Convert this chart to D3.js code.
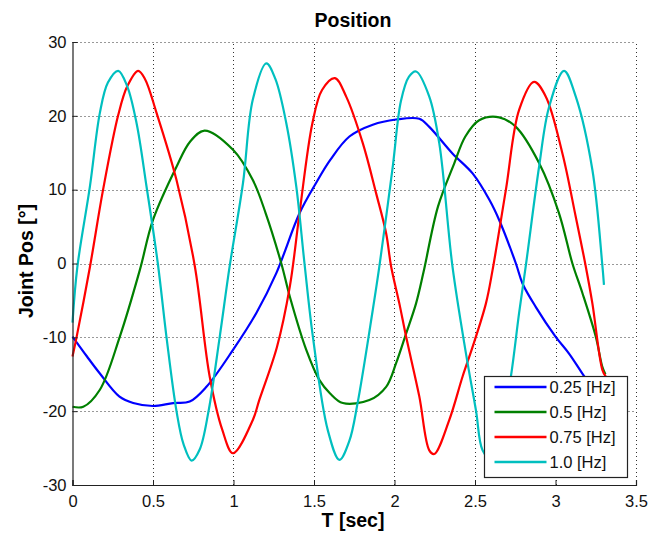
<!DOCTYPE html>
<html>
<head>
<meta charset="utf-8">
<script src="https://cdn.jsdelivr.net/npm/d3@7"></script>
<style>
  body { margin: 0; background: #fff; }
  text { font-family: "Liberation Sans", Arial, sans-serif; }
</style>
</head>
<body>
<div id="chart"></div>
<script>
// data: [time (s), joint position (deg)]
const pos025 = [[0,-9.9],[0.09,-12.6],[0.17,-14.9],[0.29,-18],[0.377,-18.9],[0.5,-19.3],[0.625,-18.9],[0.728,-18.7],
  [0.832,-16.7],[0.997,-11.7],[1.142,-6.7],[1.266,-1.3],[1.41,6.8],[1.51,10.8],[1.6,14],[1.72,17.2],[1.865,18.8],
  [2.01,19.5],[2.154,19.6],[2.216,18.5],[2.36,14.9],[2.485,12.2],[2.59,8.6],[2.65,5.9],[2.754,0],[2.795,-2.7],
  [2.878,-5.9],[3.0,-9.9],[3.084,-12.2],[3.167,-14.9],[3.25,-17.5],[3.31,-19]];

const pos05 = [[0,-19.4],[0.067,-19.4],[0.17,-17.1],[0.294,-9.9],[0.418,-0.9],[0.5,5.9],[0.646,13.1],[0.73,16.5],
  [0.82,18],[0.997,15.4],[1.12,11.3],[1.2,6.8],[1.297,0],[1.35,-4.5],[1.452,-11.7],[1.534,-15.8],[1.6,-17.6],
  [1.679,-18.9],[1.844,-18.5],[1.948,-16.7],[2.01,-13.5],[2.072,-9.5],[2.134,-5.4],[2.18,-1.2],[2.27,7.7],
  [2.37,13.5],[2.44,17.2],[2.526,19.4],[2.65,19.8],[2.754,18.5],[2.898,13.6],[3.022,6.8],[3.105,0],[3.167,-4],
  [3.25,-9.9],[3.291,-14],[3.31,-15]];

const pos075 = [[0,-12.6],[0.026,-9.9],[0.108,-0.5],[0.19,10],[0.284,20.1],[0.34,24],[0.408,26.1],[0.45,25],
  [0.522,20.4],[0.646,11.3],[0.76,-0.4],[0.852,-15.3],[0.93,-22.5],[0.997,-25.7],[1.12,-21.2],[1.16,-18.5],
  [1.27,-11.3],[1.35,-3.1],[1.41,6.8],[1.49,19],[1.55,23.5],[1.63,25.1],[1.7,22.6],[1.803,16.3],[1.886,9.5],
  [1.948,4.1],[1.979,-0.4],[2.03,-5.4],[2.072,-9.9],[2.154,-18],[2.216,-25.3],[2.247,-25.8],[2.34,-21.2],
  [2.423,-15.3],[2.485,-11.3],[2.568,-5.4],[2.609,-0.9],[2.692,10],[2.774,20.8],[2.867,24.6],[2.94,22.6],
  [3.043,14.9],[3.126,6.3],[3.188,-0.4],[3.229,-5.4],[3.291,-14.4],[3.312,-15.3]];

const pos10 = [[0,-8],[0.03,-0.5],[0.108,10.4],[0.17,20.4],[0.22,24.5],[0.284,26.1],[0.34,24],[0.398,19],
  [0.46,10.4],[0.53,0],[0.584,-10],[0.646,-20],[0.69,-24.5],[0.74,-26.7],[0.79,-25.2],[0.845,-20],[0.914,-10],
  [0.976,-0.4],[1.059,10.9],[1.12,22.2],[1.204,27.1],[1.26,25],[1.328,19],[1.39,10.4],[1.441,0],[1.493,-9.9],
  [1.586,-22.6],[1.658,-26.6],[1.72,-24],[1.77,-19],[1.865,-6.3],[1.906,-0.4],[1.989,13.1],[2.04,22],[2.09,25.3],
  [2.134,26],[2.216,22.6],[2.278,16.3],[2.36,-0.4],[2.444,-12.2],[2.506,-19.9],[2.547,-25.3],[2.6,-26.5],[2.66,-23],
  [2.723,-15.3],[2.774,-6.7],[2.815,-0.4],[2.898,13.1],[2.96,21.2],[3.053,26.1],[3.126,22.6],[3.229,12.7],
  [3.29,0],[3.301,-2.9]];

const seriesNames = ["0.25 [Hz]", "0.5 [Hz]", "0.75 [Hz]", "1.0 [Hz]"];
const seriesData = [pos025, pos05, pos075, pos10];
const seriesColors = ["#0000ff", "#008000", "#ff0000", "#00bfbf"];
const xTicks = [0, 0.5, 1, 1.5, 2, 2.5, 3, 3.5];
const yTicks = [-30, -20, -10, 0, 10, 20, 30];

const width = 659, height = 536;
const margin = {left: 72.5, right: 23, top: 42, bottom: 51};

const svg = d3.select("#chart")
    .append("svg")
    .attr("width", width)
    .attr("height", height);

svg.append("rect").attr("width", width).attr("height", height).attr("fill", "#fff");

const x = d3.scaleLinear().domain([0, 3.5]).range([margin.left, width - margin.right]);
const y = d3.scaleLinear().domain([-30, 30]).range([height - margin.bottom, margin.top]);

// dotted grid
const grid = svg.append("g")
    .attr("stroke", "#333")
    .attr("stroke-width", 1)
    .attr("stroke-dasharray", "1,3");

grid.selectAll(".gx")
    .data(xTicks.slice(1))
    .enter().append("line")
    .attr("x1", d => Math.round(x(d)) + 0.5)
    .attr("x2", d => Math.round(x(d)) + 0.5)
    .attr("y1", y(-30))
    .attr("y2", y(30));

grid.selectAll(".gy")
    .data(yTicks.slice(1))
    .enter().append("line")
    .attr("x1", x(0))
    .attr("x2", x(3.5))
    .attr("y1", d => Math.round(y(d)) + 0.5)
    .attr("y2", d => Math.round(y(d)) + 0.5);

// curves
const line = d3.line()
    .x(d => x(d[0]))
    .y(d => y(d[1]))
    .curve(d3.curveCatmullRom.alpha(0.5));

svg.append("g")
    .selectAll("path")
    .data(seriesData)
    .enter().append("path")
    .attr("d", line)
    .attr("fill", "none")
    .attr("stroke", (d, i) => seriesColors[i])
    .attr("stroke-width", 2.2)
    .attr("stroke-linejoin", "round");

// axes
const xAxis = svg.append("g")
    .attr("transform", `translate(0,${y(-30)})`)
    .call(d3.axisBottom(x).tickValues(xTicks).tickSize(-5).tickPadding(10).tickFormat(d => String(d)));

const yAxis = svg.append("g")
    .attr("transform", `translate(${x(0)},0)`)
    .call(d3.axisLeft(y).tickValues(yTicks).tickSize(-5).tickPadding(6).tickFormat(d => String(d)));

[xAxis, yAxis].forEach(a => {
    a.select(".domain").attr("stroke", "#222").attr("stroke-width", 1.2);
    a.selectAll(".tick line").attr("stroke", "#222");
    a.selectAll(".tick text")
        .attr("font-family", "'Liberation Sans', Arial, sans-serif")
        .attr("font-size", 16.5)
        .attr("fill", "#111");
});

// titles
svg.append("text")
    .attr("x", 353)
    .attr("y", 27)
    .attr("text-anchor", "middle")
    .attr("font-weight", "bold")
    .attr("font-size", 19.5)
    .text("Position");

svg.append("text")
    .attr("x", 353)
    .attr("y", 527)
    .attr("text-anchor", "middle")
    .attr("font-weight", "bold")
    .attr("font-size", 19.5)
    .text("T [sec]");

svg.append("text")
    .attr("transform", "translate(33,261) rotate(-90)")
    .attr("text-anchor", "middle")
    .attr("font-weight", "bold")
    .attr("font-size", 19.5)
    .text("Joint Pos [°]");

// legend
const legend = svg.append("g").attr("transform", "translate(484.5,376.5)");

legend.append("rect")
    .attr("width", 143)
    .attr("height", 101)
    .attr("fill", "#fff")
    .attr("stroke", "#222")
    .attr("stroke-width", 1.2);

const item = legend.selectAll(".item")
    .data(seriesNames)
    .enter().append("g")
    .attr("transform", (d, i) => `translate(0,${10.5 + i * 25})`);

item.append("line")
    .attr("x1", 10)
    .attr("x2", 62)
    .attr("stroke", (d, i) => seriesColors[i])
    .attr("stroke-width", 2.5);

item.append("text")
    .attr("x", 65)
    .attr("dy", "0.35em")
    .attr("font-size", 16.5)
    .attr("fill", "#111")
    .text(d => d);
</script>
</body>
</html>
